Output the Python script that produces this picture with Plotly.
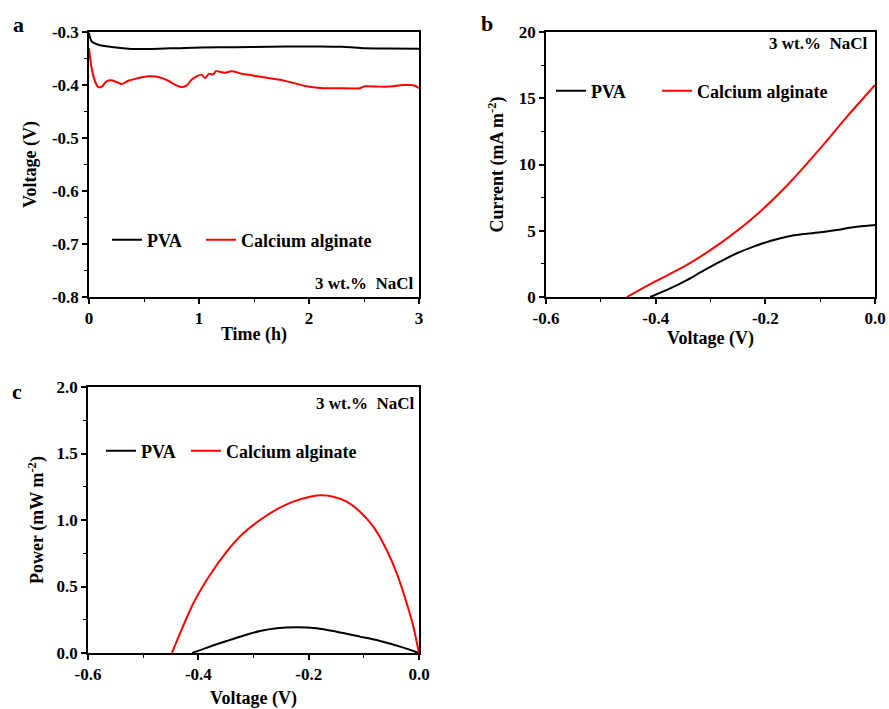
import plotly.graph_objects as go

# ---------- Panel a: voltage vs time ----------
t_pva = [0, 0.024, 0.085, 0.206, 0.358, 0.57, 0.873, 1.176, 1.479, 1.8, 2.1, 2.3,
         2.464, 2.7, 3.0]
v_pva = [-0.302, -0.3176, -0.324, -0.3283, -0.3315, -0.332, -0.330, -0.3289, -0.3283,
         -0.3275, -0.3272, -0.328, -0.330, -0.331, -0.3315]
t_ca = [0, 0.024, 0.055, 0.085, 0.115, 0.16, 0.206, 0.267, 0.297, 0.358, 0.448, 0.539,
        0.63, 0.721, 0.782, 0.843, 0.888, 0.933, 0.979, 1.024, 1.055, 1.09, 1.13, 1.152,
        1.236, 1.297, 1.388, 1.479, 1.585, 1.736, 1.857, 1.979, 2.1, 2.252, 2.464, 2.509,
        2.615, 2.736, 2.858, 2.948, 3.0]
v_ca = [-0.330, -0.368, -0.393, -0.404, -0.403, -0.393, -0.391, -0.396, -0.398, -0.392,
        -0.387, -0.3837, -0.385, -0.392, -0.3994, -0.404, -0.4006, -0.390, -0.3837,
        -0.3805, -0.387, -0.379, -0.380, -0.374, -0.377, -0.374, -0.3786, -0.3818,
        -0.3855, -0.390, -0.396, -0.4025, -0.4057, -0.406, -0.406, -0.4025, -0.403,
        -0.403, -0.400, -0.4006, -0.4057]

# ---------- Panel b: current vs voltage ----------
vb_pva = [-0.41, -0.3735, -0.343, -0.3128, -0.2824, -0.252, -0.2217, -0.1913, -0.1609,
          -0.1306, -0.1002, -0.0698, -0.0395, 0.0]
i_pva = [0.0, 0.65, 1.28, 1.99, 2.67, 3.3, 3.8, 4.23, 4.55, 4.75, 4.88, 5.06, 5.26, 5.43]
vb_ca = [-0.4524, -0.404, -0.343, -0.2824, -0.2217, -0.1609, -0.1002, -0.0515, -0.0213, 0.0]
i_ca = [0.0, 1.1, 2.42, 4.05, 6.0, 8.4, 11.2, 13.6, 15.0, 16.0]

# ---------- Panel c: power vs voltage ----------
vc_pva = [-0.411, -0.379, -0.3486, -0.3185, -0.2882, -0.258, -0.2217, -0.1855, -0.1492,
          -0.107, -0.0707, -0.0344, 0.0]
p_pva = [0.0, 0.048, 0.09, 0.13, 0.165, 0.186, 0.193, 0.186, 0.16, 0.123, 0.09, 0.048, 0.0]
vc_ca = [-0.448, -0.4332, -0.409, -0.379, -0.3486, -0.3185, -0.2882, -0.258, -0.2278,
         -0.1976, -0.1764, -0.1553, -0.1311, -0.107, -0.0828, -0.0586, -0.0404, -0.0223,
         -0.0102, 0.0]
p_ca = [0.0, 0.148, 0.374, 0.586, 0.762, 0.90, 1.0, 1.08, 1.138, 1.175, 1.186, 1.175,
        1.138, 1.062, 0.95, 0.774, 0.6, 0.374, 0.198, 0.0]

series_names = ["PVA", "Calcium alginate"]
salt_label = "3 wt.%  NaCl"

ya_ticks = [-0.8, -0.7, -0.6, -0.5, -0.4, -0.3]
ya_text = ["-0.8", "-0.7", "-0.6", "-0.5", "-0.4", "-0.3"]
xa_ticks = [0, 1, 2, 3]
xa_text = ["0", "1", "2", "3"]
xv_ticks = [-0.6, -0.4, -0.2, 0.0]
xv_text = ["-0.6", "-0.4", "-0.2", "0.0"]
yb_ticks = [0, 5, 10, 15, 20]
yb_text = ["0", "5", "10", "15", "20"]
yc_ticks = [0, 0.5, 1.0, 1.5, 2.0]
yc_text = ["0.0", "0.5", "1.0", "1.5", "2.0"]

FONT = "Liberation Serif"
BLACK = "#000000"
RED = "#ff0000"

fig = go.Figure()
panels = [
    (t_pva, v_pva, t_ca, v_ca, "x", "y", "legend", "legend2"),
    (vb_pva, i_pva, vb_ca, i_ca, "x2", "y2", "legend3", "legend4"),
    (vc_pva, p_pva, vc_ca, p_ca, "x3", "y3", "legend5", "legend6"),
]
for xp, yp, xc, yc, xa, ya, lg1, lg2 in panels:
    fig.add_trace(go.Scatter(x=xp, y=yp, mode="lines", name=series_names[0],
                             line=dict(color=BLACK, width=2, shape="spline", smoothing=0.8),
                             xaxis=xa, yaxis=ya, legend=lg1))
    fig.add_trace(go.Scatter(x=xc, y=yc, mode="lines", name=series_names[1],
                             line=dict(color=RED, width=2, shape="spline", smoothing=0.8),
                             xaxis=xa, yaxis=ya, legend=lg2))

tickfont = dict(family=FONT, size=17, color=BLACK, weight="bold")
titlefont = dict(family=FONT, size=18, color=BLACK, weight="bold")


def axis(domain, rng, tv, tt, minor_dtick, minor_tick0, title, standoff, anchor):
    return dict(domain=domain, range=rng, tickmode="array", tickvals=tv, ticktext=tt,
                showline=True, mirror=True, linecolor=BLACK, linewidth=1.6,
                ticks="outside", ticklen=5, tickwidth=1.5, tickcolor=BLACK,
                showgrid=False, zeroline=False, tickfont=tickfont, anchor=anchor,
                automargin=False, ticklabeloverflow="allow",
                title=dict(text=title, font=titlefont, standoff=standoff),
                minor=dict(tickmode="linear", tick0=minor_tick0, dtick=minor_dtick,
                           ticks="outside", ticklen=3, tickwidth=1.2, tickcolor=BLACK))


W, H = 889, 709
def fx(px):
    return px / W
def fy(py):
    return 1 - py / H

fig.update_layout(
    width=W, height=H, margin=dict(l=0, r=0, t=0, b=0, autoexpand=False),
    paper_bgcolor="white", plot_bgcolor="white", showlegend=True,
    xaxis=axis([fx(89), fx(419)], [0, 3], xa_ticks, xa_text, 0.5, 0,
               "Time (h)", 0, "y"),
    yaxis=axis([fy(297), fy(32)], [-0.8, -0.3], ya_ticks, ya_text, 0.05, -0.8,
               "Voltage (V)", 11, "x"),
    xaxis2=axis([fx(546), fx(875)], [-0.6, 0], xv_ticks, xv_text, 0.1, -0.6,
                "Voltage (V)", 4, "y2"),
    yaxis2=axis([fy(297), fy(32)], [0, 20], yb_ticks, yb_text, 2.5, 0,
                "Current (mA m<sup>-2</sup>)", 10, "x2"),
    xaxis3=axis([fx(88), fx(419)], [-0.6, 0], xv_ticks, xv_text, 0.1, -0.6,
                "Voltage (V)", 13, "y3"),
    yaxis3=axis([fy(653), fy(387)], [0, 2], yc_ticks, yc_text, 0.25, 0,
                "Power (mW m<sup>-2</sup>)", 8, "x3"),
)

legfont = dict(family=FONT, size=18, color=BLACK, weight="bold")
def legend(xpx, ypx):
    return dict(x=fx(xpx), y=fy(ypx), xanchor="left", yanchor="middle",
                orientation="h", font=legfont, bgcolor="rgba(0,0,0,0)",
                itemwidth=30, borderwidth=0)

fig.update_layout(
    legend=legend(107, 240),
    legend2=legend(201, 240),
    legend3=legend(551, 91),
    legend4=legend(657, 91),
    legend5=legend(101, 451),
    legend6=legend(186, 451),
)

ann_font = dict(family=FONT, size=17, color=BLACK, weight="bold")
letter_font = dict(family=FONT, size=22, color=BLACK, weight="bold")
for px, py in [(415, 283), (869, 43), (416, 403)]:
    fig.add_annotation(x=fx(px), y=fy(py), xref="paper", yref="paper", text=salt_label,
                       showarrow=False, xanchor="right", yanchor="middle", font=ann_font)
for letter, px, py in [("a", 18, 25), ("b", 487, 24), ("c", 17, 391)]:
    fig.add_annotation(x=fx(px), y=fy(py), xref="paper", yref="paper", text=letter,
                       showarrow=False, xanchor="center", yanchor="middle", font=letter_font)

# remove the browser's default 8 px page margin so the figure fills the window
fig.write_html("out.html", config={"displayModeBar": False},
               post_script="document.body.style.margin='0';document.body.style.overflow='hidden';")
